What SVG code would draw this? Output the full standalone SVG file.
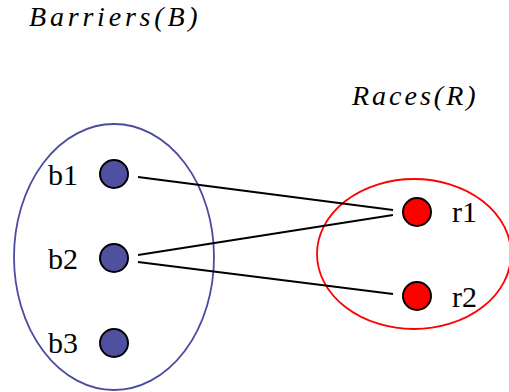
<svg xmlns="http://www.w3.org/2000/svg" width="509" height="392" viewBox="0 0 509 392">
<rect width="509" height="392" fill="#fff"/>
<g id="setB">
<ellipse cx="114" cy="257" rx="100" ry="133" fill="none" stroke="#4B4BA0" stroke-width="1.8"/>
<text x="29" y="26" font-family="Liberation Serif" font-size="28" font-style="italic" letter-spacing="3.8">Barriers(B)</text>
</g>
<g id="setR">
<ellipse cx="414" cy="254" rx="97" ry="75" fill="none" stroke="#FF0000" stroke-width="1.8"/>
<text x="352" y="105" font-family="Liberation Serif" font-size="28" font-style="italic" letter-spacing="3">Races(R)</text>
</g>
<g id="edges" stroke="#000" stroke-width="2" fill="none">
<line x1="138" y1="177" x2="393" y2="210"/>
<line x1="138" y1="255" x2="393" y2="215"/>
<line x1="138" y1="262" x2="393" y2="294"/>
</g>
<g id="bnodes" stroke="#000" stroke-width="2" fill="#5050A0">
<g id="b1"><circle cx="114" cy="174" r="14"/><text x="48" y="185" font-family="Liberation Serif" font-size="30" fill="#000" stroke="none">b1</text></g>
<g id="b2"><circle cx="114" cy="258" r="14"/><text x="48" y="269" font-family="Liberation Serif" font-size="30" fill="#000" stroke="none">b2</text></g>
<g id="b3"><circle cx="114" cy="343" r="14"/><text x="48" y="353" font-family="Liberation Serif" font-size="30" fill="#000" stroke="none">b3</text></g>
</g>
<g id="rnodes" stroke="#000" stroke-width="2" fill="#FF0000">
<g id="r1"><circle cx="417" cy="212" r="14"/><text x="452" y="222" font-family="Liberation Serif" font-size="30" fill="#000" stroke="none">r1</text></g>
<g id="r2"><circle cx="417" cy="296" r="14"/><text x="452" y="307" font-family="Liberation Serif" font-size="30" fill="#000" stroke="none">r2</text></g>
</g>
</svg>
